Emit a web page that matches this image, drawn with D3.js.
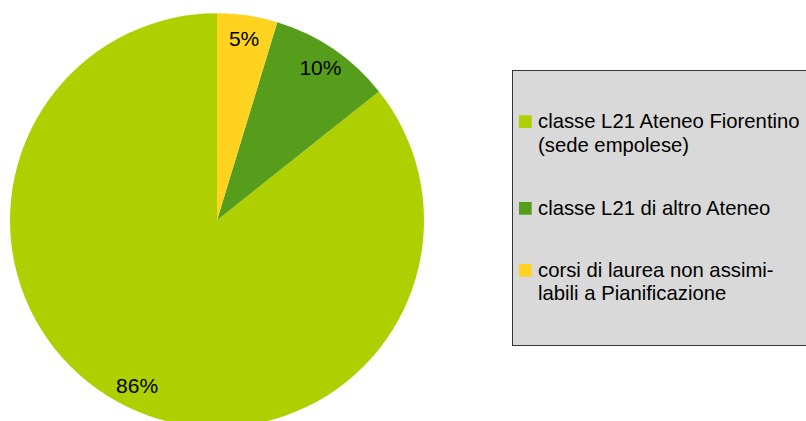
<!DOCTYPE html>
<html>
<head>
<meta charset="utf-8">
<script src="https://cdn.jsdelivr.net/npm/d3@7.9.0/dist/d3.min.js"></script>
<style>
  body { margin: 0; background: #fff; }
  svg { display: block; font-family: "Liberation Sans", Arial, sans-serif; }
</style>
</head>
<body>
<svg id="chart" width="806" height="421"></svg>
<script>
// categories, in legend order
const categories = ['L21 Fiorentino', 'L21 altro', 'non assimilabili']
const legendLines = [
  ['classe L21 Ateneo Fiorentino', '(sede empolese)'],
  ['classe L21 di altro Ateneo'],
  ['corsi di laurea non assimi-', 'labili a Pianificazione']
]
const shares = [85.7, 9.6, 4.7]
const sliceColors = ['#aecf00', '#579d1c', '#ffd320']

const svg = d3.select('#chart')
const cx = 217, cy = 220.3, radius = 207

const data = categories.map((c, i) => ({ label: c, value: shares[i], lines: legendLines[i] }))
const total = d3.sum(shares)

// slices run counter-clockwise from 12 o'clock
let pie = d3.pie().sort(null).value(d => d.value)
  .startAngle(0).endAngle(-2 * Math.PI)
let arcData = pie(data)

let arc = d3.arc().innerRadius(0).outerRadius(radius)
let labelArc = d3.arc().innerRadius(184).outerRadius(184)
let colors = d3.scaleOrdinal().domain(categories).range(sliceColors)

let g = svg.append('g').attr('transform', `translate(${cx},${cy})`)

g.selectAll('path')
  .data(arcData)
  .join('path')
  .attr('d', arc)
  .attr('fill', d => colors(d.data.label))

g.selectAll('text')
  .data(arcData)
  .join('text')
  .attr('transform', d => `translate(${labelArc.centroid(d)})`)
  .attr('text-anchor', 'middle')
  .attr('dy', '0.35em')
  .attr('font-size', 21)
  .attr('fill', '#000')
  .text(d => Math.round(d.data.value / total * 100) + '%')

// legend
let legend = svg.append('g')
legend.append('rect')
  .attr('x', 512.5).attr('y', 70.5)
  .attr('width', 300).attr('height', 275)
  .attr('fill', '#d9d9d9')
  .attr('stroke', '#333')

const itemY = [128.3, 215, 277]
data.forEach((d, i) => {
  legend.append('rect')
    .attr('x', 519).attr('y', itemY[i] - 13)
    .attr('width', 12.7).attr('height', 12.7)
    .attr('fill', colors(d.label))
  let t = legend.append('text')
    .attr('x', 538).attr('y', itemY[i])
    .attr('font-size', 20.3)
    .attr('fill', '#000')
  d.lines.forEach((line, j) => {
    t.append('tspan').attr('x', 538).attr('dy', j === 0 ? 0 : 23.4).text(line)
  })
})
</script>
</body>
</html>
